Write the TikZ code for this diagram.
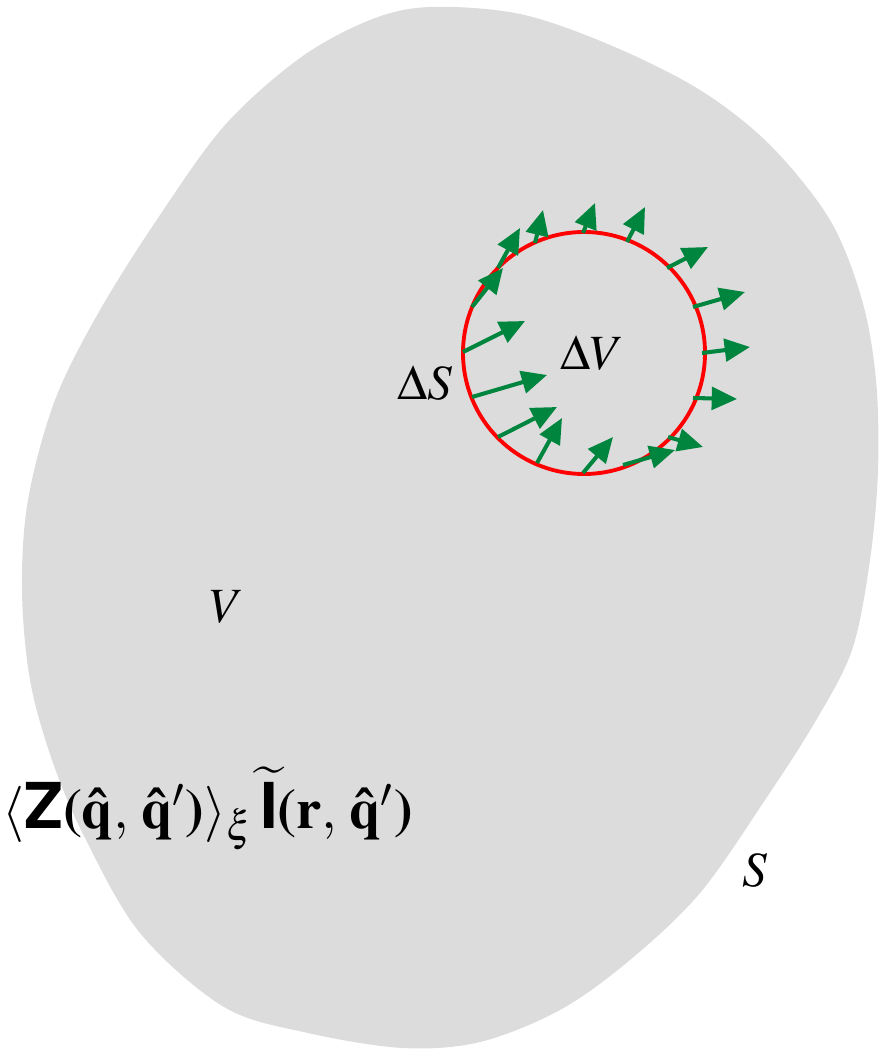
\documentclass[tikz,border=0pt]{standalone}
\usepackage[T1]{fontenc}
\usepackage{mathptmx}
\usepackage{helvet}
\usetikzlibrary{arrows.meta}
\definecolor{blobgray}{RGB}{220,220,220}
\definecolor{fluxgreen}{RGB}{0,133,62}
\newcommand{\bpar}[1]{\textbf{#1}}

\begin{document}
\begin{tikzpicture}[
  x=0.01cm, y=-0.01cm,
  every node/.style={inner sep=0pt},
  region/.style={fill=blobgray, draw=none},
  surf/.style={red, line width=1.1pt},
  flux/.style={-{Triangle[length=7.2pt,width=6.4pt]}, fluxgreen, line width=1.15pt},
  lbl/.style={font=\fontsize{14}{16}\selectfont}
]
\useasboundingbox (0,0) rectangle (878,1049);
% The volume V bounded by S.
\fill[region] plot[smooth cycle, tension=0.55] coordinates {
  (430,7) (520,14) (610,45) (700,90) (770,145) (830,220) (862,300)
  (876,380) (878,470) (870,560) (852,650) (815,722) (765,800)
  (700,893) (630,960) (560,1010) (480,1042) (403,1048) (308,1033)
  (224,1007) (140,933) (84,836) (52,760) (30,680) (22,590) (28,500)
  (55,400) (100,310) (160,215) (225,125) (300,58) (370,20)};

% The small sphere Delta V.
\coordinate (c) at (584,353);
\draw[surf] (c) circle[radius=121];

% Flux through Delta S.
\foreach \sx/\sy/\tx/\ty in {
  472/307/503/268, 498/268/520/228, 535/243/543/210, 583/233/595/203,
  627/242/645/207, 667/268/708/247, 693/307/745/292, 702/353/750/347,
  693/398/737/399, 668/437/703/447, 623/465/675/450, 583/473/613/437,
  537/463/562/418, 498/437/557/407, 472/397/547/375, 463/352/525/321}
  \draw[flux] (\sx,\sy) -- (\tx,\ty);

\node[lbl] (dV) at (592,353) {$\Delta V$};
\node[lbl] (dS) at (425,383) {$\Delta S$};
\node[lbl] (vol) at (227,607) {$V$};
\node[lbl] (bnd) at (755,870) {$S$};

\node[anchor=base west, font=\fontsize{16}{18}\selectfont] (phase) at (2,828)
  {$\langle\textsf{\bfseries\fontsize{18}{18}\selectfont Z}\bpar{(}\mathbf{\hat{q}},\,\mathbf{\hat{q}}'\bpar{)}\rangle_{\xi}\,
   \widetilde{\textsf{\bfseries\fontsize{18}{18}\selectfont I}}\bpar{(}\mathbf{r},\,\mathbf{\hat{q}}'\bpar{)}$};
\end{tikzpicture}
\end{document}
